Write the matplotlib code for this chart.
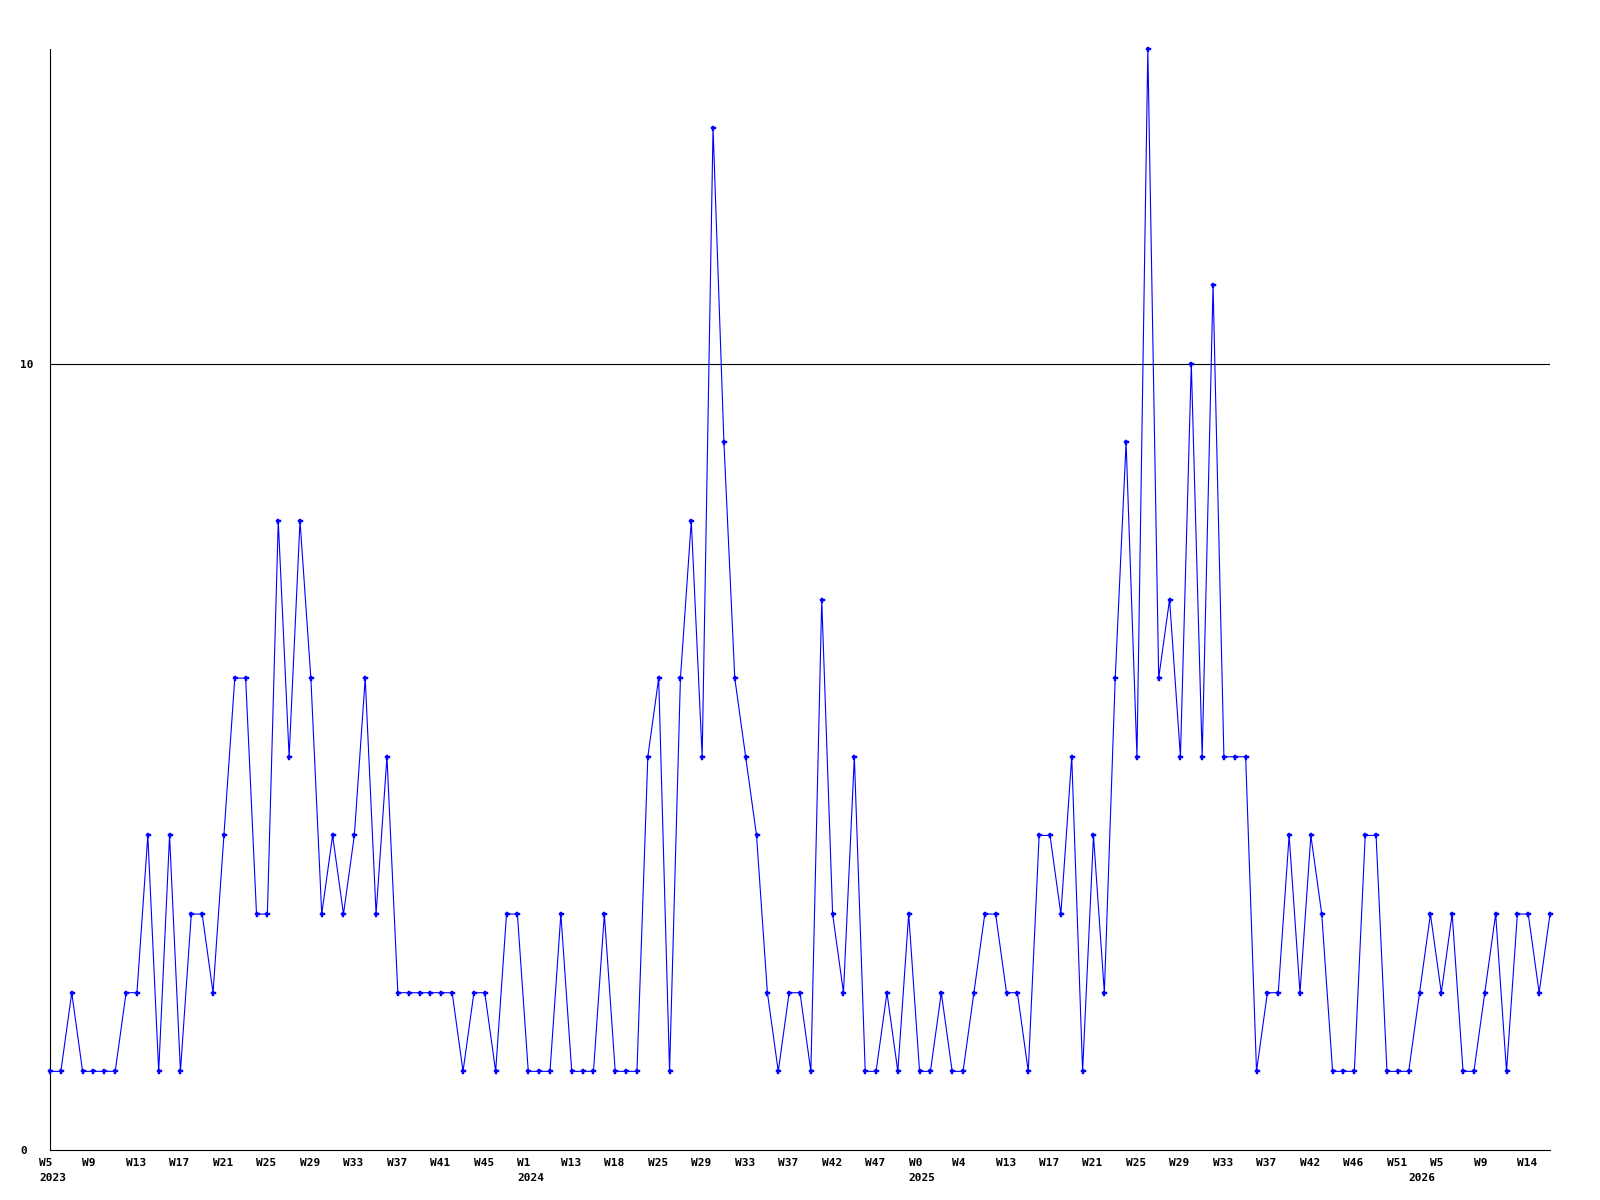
import numpy as np
import matplotlib
matplotlib.use("Agg")
import matplotlib.pyplot as plt
import matplotlib.transforms as mtransforms

# weekly counts
counts = [1, 1, 2, 1, 1, 1, 1, 2, 2, 4,
          1, 4, 1, 3, 3, 2, 4, 6, 6, 3,
          3, 8, 5, 8, 6, 3, 4, 3, 4, 6,
          3, 5, 2, 2, 2, 2, 2, 2, 1, 2,
          2, 1, 3, 3, 1, 1, 1, 3, 1, 1,
          1, 3, 1, 1, 1, 5, 6, 1, 6, 8,
          5, 13, 9, 6, 5, 4, 2, 1, 2, 2,
          1, 7, 3, 2, 5, 1, 1, 2, 1, 3,
          1, 1, 2, 1, 1, 2, 3, 3, 2, 2,
          1, 4, 4, 3, 5, 1, 4, 2, 6, 9,
          5, 14, 6, 7, 5, 10, 5, 11, 5, 5,
          5, 1, 2, 2, 4, 2, 4, 3, 1, 1,
          1, 4, 4, 1, 1, 1, 2, 3, 2, 3,
          1, 1, 2, 3, 1, 3, 3, 2, 3]

week_labels = ["W5", "W9", "W13", "W17", "W21", "W25", "W29", "W33", "W37",
               "W41", "W45", "W1", "W13", "W18", "W25", "W29", "W33", "W37",
               "W42", "W47", "W0", "W4", "W13", "W17", "W21", "W25", "W29",
               "W33", "W37", "W42", "W46", "W51", "W5", "W9", "W14"]
year_labels = ["2023", "2024", "2025", "2026"]
year_pos = [0, 44, 80, 126]

x = np.arange(len(counts))

fig = plt.figure(figsize=(16, 12), dpi=100)
ax = fig.add_axes([50 / 1600, 50 / 1200, 1500 / 1600, 1101 / 1200])

ax.axhline(10, color="black", lw=0.8, zorder=1)
ax.plot(x, counts, color="#0000ff", lw=0.8, marker="P", ms=3.6,
        mec="#0000ff", mfc="#0000ff", mew=0.3, zorder=3, clip_on=False)

ax.set_xlim(0, len(counts) - 1)
ax.set_ylim(0, 14)

for s in ["top", "right"]:
    ax.spines[s].set_visible(False)
for s in ["left", "bottom"]:
    ax.spines[s].set_color("black")
    ax.spines[s].set_linewidth(0.8)

font = dict(family="DejaVu Sans Mono", weight="bold", size=8)

ax.set_yticks([0, 10])
ax.set_yticklabels(["0", "10"], fontdict=font)
ax.tick_params(axis="y", length=0, pad=21.5)
for t in ax.get_yticklabels():
    t.set_ha("left")
ax.set_xticks([])

# week labels under every fourth point, years below them
base = mtransforms.blended_transform_factory(ax.transData, ax.transAxes)
wk_tr = mtransforms.offset_copy(base, fig=fig, x=-11, y=-13, units="dots")
yr_tr = mtransforms.offset_copy(base, fig=fig, x=-11, y=-28, units="dots")
for i, lab in enumerate(week_labels):
    ax.text(i * 4, 0, lab, transform=wk_tr, ha="left", va="center", **font)
for p, lab in zip(year_pos, year_labels):
    ax.text(p, 0, lab, transform=yr_tr, ha="left", va="center", **font)

fig.savefig("out.png", dpi=100, facecolor="white")
